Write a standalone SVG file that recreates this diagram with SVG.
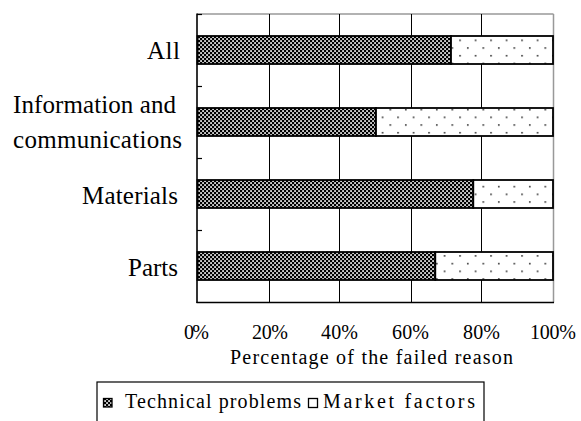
<svg xmlns="http://www.w3.org/2000/svg" width="581" height="421" viewBox="0 0 581 421">
  <defs>
    <pattern id="checker" x="0" y="0" width="4" height="4" patternUnits="userSpaceOnUse">
      <rect width="4" height="4" fill="#000"/>
      <rect x="0.2" y="0.2" width="1.7" height="1.7" fill="#fff"/>
      <rect x="2.2" y="2.2" width="1.7" height="1.7" fill="#fff"/>
    </pattern>
    <pattern id="dots" x="0" y="1" width="15.5" height="15.4" patternUnits="userSpaceOnUse">
      <rect width="15.5" height="15.4" fill="#fff"/>
      <rect x="2" y="0" width="1.6" height="1.6" fill="#333"/>
      <rect x="9.75" y="7.7" width="1.6" height="1.6" fill="#333"/>
    </pattern>
    <style>
      .lbl { font-family: "Liberation Serif", "Times New Roman", serif; font-size: 25px; fill: #000; }
      .tick { font-family: "Liberation Serif", "Times New Roman", serif; font-size: 20px; fill: #000; }
      .grid { stroke: #000; stroke-width: 1; fill: none; }
      .tech { fill: url(#checker); stroke: #000; stroke-width: 1.8; }
      .mkt { fill: url(#dots); stroke: #000; stroke-width: 1.8; }
    </style>
  </defs>
  <rect width="581" height="421" fill="#fff"/>

  <g id="plot-frame">
    <line x1="197" y1="14" x2="553.5" y2="14" stroke="#999" stroke-width="1.5"/>
    <line x1="553.5" y1="14" x2="553.5" y2="302.5" stroke="#999" stroke-width="1.5"/>
    <line class="grid" x1="269.5" y1="14" x2="269.5" y2="302"/>
    <line class="grid" x1="339.5" y1="14" x2="339.5" y2="302"/>
    <line class="grid" x1="411.5" y1="14" x2="411.5" y2="302"/>
    <line class="grid" x1="481.5" y1="14" x2="481.5" y2="302"/>
    <line x1="197" y1="13.5" x2="197" y2="303" stroke="#000" stroke-width="1.6"/>
    <line x1="196.5" y1="302.5" x2="554" y2="302.5" stroke="#000" stroke-width="1.6"/>
    <g stroke="#000" stroke-width="1.2">
      <line x1="197" y1="14.5" x2="202" y2="14.5"/>
      <line x1="197" y1="86.5" x2="202" y2="86.5"/>
      <line x1="197" y1="158.5" x2="202" y2="158.5"/>
      <line x1="197" y1="230.5" x2="202" y2="230.5"/>
    </g>
  </g>

  <g id="bar-all">
    <rect class="tech" x="197.5" y="36" width="253.5" height="28"/>
    <rect class="mkt" x="451" y="36" width="102" height="28"/>
  </g>
  <g id="bar-info">
    <rect class="tech" x="197.5" y="108" width="178.5" height="28"/>
    <rect class="mkt" x="376" y="108" width="177" height="28"/>
  </g>
  <g id="bar-materials">
    <rect class="tech" x="197.5" y="180" width="275.8" height="28"/>
    <rect class="mkt" x="473.3" y="180" width="79.7" height="28"/>
  </g>
  <g id="bar-parts">
    <rect class="tech" x="197.5" y="252" width="237.8" height="28"/>
    <rect class="mkt" x="435.3" y="252" width="117.7" height="28"/>
  </g>

  <g id="category-labels">
    <text class="lbl" x="147" y="59" textLength="33" lengthAdjust="spacing">All</text>
    <text class="lbl" x="13" y="113" textLength="163" lengthAdjust="spacing">Information and</text>
    <text class="lbl" x="13" y="148" textLength="169" lengthAdjust="spacing">communications</text>
    <text class="lbl" x="82" y="204" textLength="96" lengthAdjust="spacing">Materials</text>
    <text class="lbl" x="128" y="276" textLength="50" lengthAdjust="spacing">Parts</text>
  </g>

  <g id="x-axis-labels">
    <text class="tick" x="184" y="339" textLength="25" lengthAdjust="spacing">0%</text>
    <text class="tick" x="252" y="339" textLength="36" lengthAdjust="spacing">20%</text>
    <text class="tick" x="321" y="339" textLength="37" lengthAdjust="spacing">40%</text>
    <text class="tick" x="392" y="339" textLength="37" lengthAdjust="spacing">60%</text>
    <text class="tick" x="463" y="339" textLength="37" lengthAdjust="spacing">80%</text>
    <text class="tick" x="530" y="339" textLength="46" lengthAdjust="spacing">100%</text>
    <text class="tick" x="230" y="364" textLength="283" lengthAdjust="spacing">Percentage of the failed reason</text>
  </g>

  <g id="legend">
    <rect x="97" y="382" width="387" height="50" fill="#fff" stroke="#000" stroke-width="1.2"/>
    <rect x="103.5" y="398.5" width="8.5" height="8.5" fill="url(#checker)" stroke="#000" stroke-width="1.3"/>
    <text class="tick" x="125" y="408" textLength="176" lengthAdjust="spacing">Technical problems</text>
    <rect x="308.5" y="398.5" width="9" height="9" fill="#fff" stroke="#000" stroke-width="1.3"/>
    <text class="tick" x="323" y="408" textLength="152" lengthAdjust="spacing">Market factors</text>
  </g>
</svg>
